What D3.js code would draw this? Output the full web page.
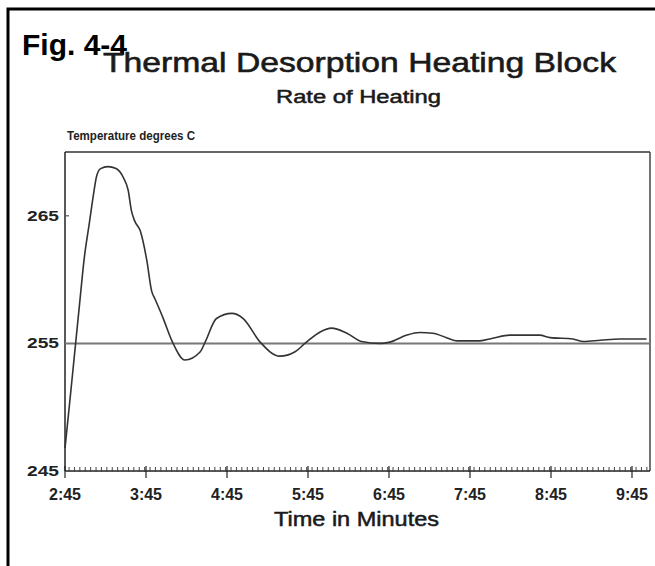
<!DOCTYPE html>
<html>
<head>
<meta charset="utf-8">
<script src="https://cdn.jsdelivr.net/npm/d3@7"></script>
<style>
  html, body { margin: 0; padding: 0; background: #fff; }
  svg { display: block; }
  text { font-family: "Liberation Sans", Arial, Helvetica, sans-serif; fill: #111; }
</style>
</head>
<body>
<svg id="chart" width="655" height="566"></svg>
<script>
// Elapsed clock time (minutes, 2.75 = 2:45) and block temperature (°C)
const times = [2.75, 2.81, 2.87, 2.93, 2.99, 3.05, 3.10, 3.14, 3.19, 3.28,
               3.38, 3.47, 3.53, 3.57, 3.61, 3.68, 3.76, 3.82, 3.86, 3.96,
               4.07, 4.23, 4.42, 4.48, 4.62, 4.81, 4.95, 5.16, 5.40, 5.59,
               5.73, 5.90, 6.04, 6.23, 6.41, 6.64, 6.76, 6.97, 7.13, 7.29,
               7.46, 7.59, 7.87, 8.03, 8.24, 8.61, 8.74, 9.02, 9.15, 9.36,
               9.60, 9.93];
const temps = [246.8, 250.5, 254.3, 258.1, 261.8, 264.4, 266.6, 268.1, 268.7, 268.85,
               268.7, 268.0, 267.0, 265.4, 264.6, 263.8, 261.5, 259.1, 258.5, 257.0,
               255.2, 253.7, 254.35, 255.1, 256.95, 257.35, 256.95, 255.1, 254.0, 254.35,
               255.1, 255.9, 256.2, 255.8, 255.15, 255.0, 255.1, 255.65, 255.85, 255.8,
               255.45, 255.2, 255.2, 255.4, 255.65, 255.65, 255.45, 255.35, 255.15, 255.25,
               255.35, 255.35];

// Set point of the block
const setPoint = 255;

// Axis ticks
const xTickValues = [2.75, 3.75, 4.75, 5.75, 6.75, 7.75, 8.75, 9.75];
const xTickLabels = ["2:45", "3:45", "4:45", "5:45", "6:45", "7:45", "8:45", "9:45"];
const yTickValues = [245, 255, 265];
const yTickLabels = ["245", "255", "265"];
const minorTicksPerMinute = 15;

const figLabel = "Fig. 4-4";
const title = "Thermal Desorption Heating Block";
const subtitle = "Rate of Heating";
const yTitle = "Temperature degrees C";
const xTitle = "Time in Minutes";

const data = times.map((t, i) => ({ t, v: temps[i] }));

const svg = d3.select("#chart");
const plotLeft = 65, plotRight = 650, plotTop = 152, plotBottom = 471;

const x = d3.scaleLinear().domain([2.75, 2.75 + (plotRight - plotLeft) / 81]).range([plotLeft, plotRight]);
const y = d3.scaleLinear().domain([245, 270]).range([plotBottom, plotTop]);

svg.append("rect").attr("width", 655).attr("height", 566).attr("fill", "#fff");

// Page frame (left and top rules)
svg.append("path")
  .attr("d", "M8,566V9H655")
  .attr("fill", "none").attr("stroke", "#000").attr("stroke-width", 3);

// Stretch helper: fit a text element to a given width
function fit(sel, w) {
  sel.attr("textLength", w).attr("lengthAdjust", "spacingAndGlyphs");
  return sel;
}

// Titles
svg.append("text").attr("x", 22).attr("y", 55)
  .attr("font-size", 30).attr("font-weight", "bold").style("fill", "#000")
  .text(figLabel);

fit(svg.append("text").attr("x", 103).attr("y", 72)
  .attr("font-size", 28).style("fill", "#1a1a1a")
  .attr("stroke", "#1a1a1a").attr("stroke-width", 0.6)
  .text(title), 513);

fit(svg.append("text").attr("x", 276).attr("y", 103)
  .attr("font-size", 18).style("fill", "#1a1a1a")
  .attr("stroke", "#1a1a1a").attr("stroke-width", 0.5)
  .text(subtitle), 165);

fit(svg.append("text").attr("x", 67).attr("y", 140)
  .attr("font-size", 12.5).attr("font-weight", "bold").style("fill", "#222")
  .text(yTitle), 128);

fit(svg.append("text").attr("x", 274).attr("y", 526)
  .attr("font-size", 20).style("fill", "#1a1a1a")
  .attr("stroke", "#1a1a1a").attr("stroke-width", 0.5)
  .text(xTitle), 165);

// Plot frame
const frame = svg.append("g").attr("fill", "none").attr("stroke", "#444").attr("stroke-width", 1.5);
frame.append("line").attr("x1", plotLeft).attr("x2", plotRight).attr("y1", plotTop).attr("y2", plotTop).attr("stroke", "#666").attr("stroke-width", 2);
frame.append("line").attr("x1", plotRight).attr("x2", plotRight).attr("y1", plotTop).attr("y2", plotBottom);
frame.append("line").attr("x1", plotLeft).attr("x2", plotLeft).attr("y1", plotTop).attr("y2", plotBottom).attr("stroke", "#222");

// Set-point reference line
svg.append("line")
  .attr("x1", plotLeft).attr("x2", plotRight)
  .attr("y1", y(setPoint)).attr("y2", y(setPoint))
  .attr("stroke", "#777").attr("stroke-width", 2);

// X axis with minor ticks
const xMin = x.domain()[0], xMax = x.domain()[1];
const minorTicks = d3.range(Math.ceil(xMin * minorTicksPerMinute), Math.floor(xMax * minorTicksPerMinute) + 1)
  .map(k => k / minorTicksPerMinute);

const xAxis = svg.append("g").attr("transform", `translate(0,${plotBottom})`);
xAxis.append("line").attr("x1", plotLeft).attr("x2", plotRight).attr("stroke", "#222").attr("stroke-width", 1.5);
xAxis.selectAll("line.minor").data(minorTicks).join("line")
  .attr("class", "minor")
  .attr("x1", d => x(d)).attr("x2", d => x(d))
  .attr("y1", -4).attr("y2", 1)
  .attr("stroke", "#444").attr("stroke-width", 1);
xAxis.selectAll("line.major").data(xTickValues).join("line")
  .attr("class", "major")
  .attr("x1", d => x(d)).attr("x2", d => x(d))
  .attr("y1", -5).attr("y2", 7)
  .attr("stroke", "#222").attr("stroke-width", 1.2);
xAxis.selectAll("text").data(xTickValues).join("text")
  .attr("x", d => x(d)).attr("y", 29)
  .attr("text-anchor", "middle")
  .attr("font-size", 16).attr("font-weight", "bold").style("fill", "#222")
  .text((d, i) => xTickLabels[i]);

// Y axis labels
const yAxis = svg.append("g");
yAxis.selectAll("text").data(yTickValues).join("text")
  .attr("x", 59).attr("y", d => y(d) + 5)
  .attr("text-anchor", "end")
  .attr("font-size", 14).attr("font-weight", "bold").style("fill", "#222")
  .text((d, i) => yTickLabels[i])
  .each(function () { fit(d3.select(this), 32); });
yAxis.selectAll("line").data(yTickValues.filter(v => v !== 245 && v !== setPoint)).join("line")
  .attr("x1", plotLeft).attr("x2", plotLeft + 4)
  .attr("y1", d => y(d)).attr("y2", d => y(d))
  .attr("stroke", "#555").attr("stroke-width", 1.2);

// Temperature trace
const line = d3.line().x(d => x(d.t)).y(d => y(d.v)).curve(d3.curveMonotoneX);
svg.append("path").datum(data)
  .attr("d", line)
  .attr("fill", "none").attr("stroke", "#333").attr("stroke-width", 1.6)
  .attr("stroke-linejoin", "round");
</script>
</body>
</html>
